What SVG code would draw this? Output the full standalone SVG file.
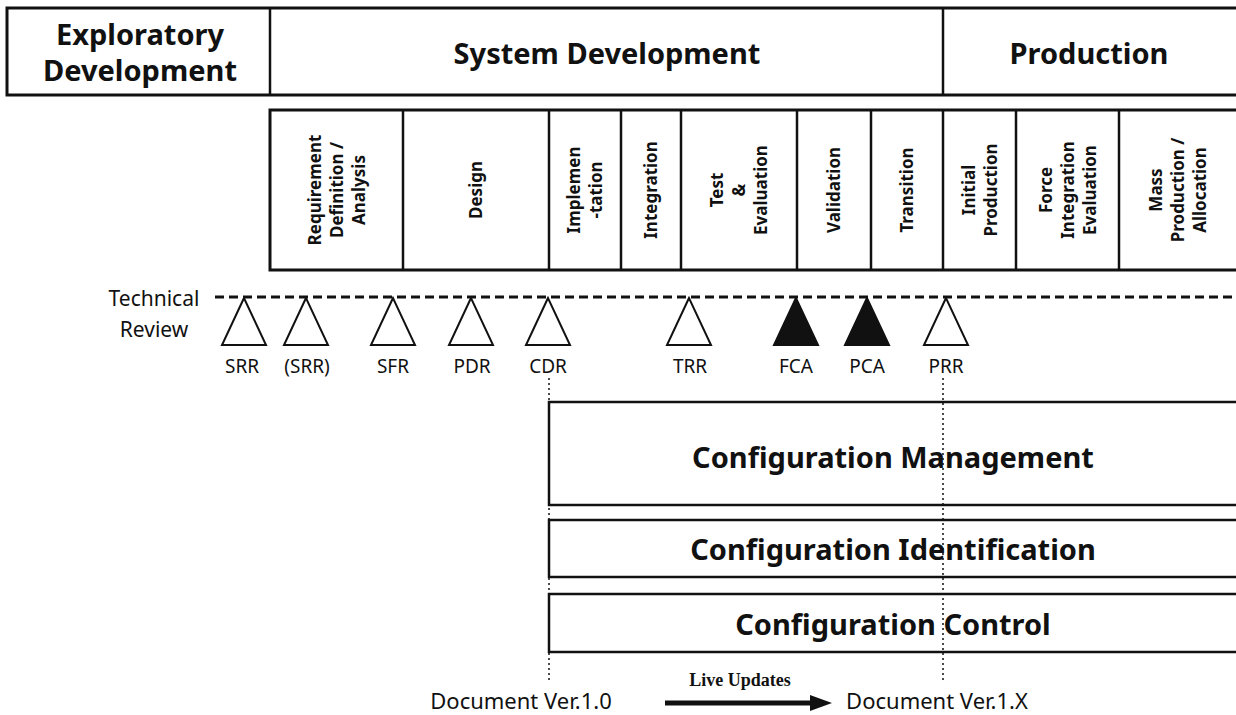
<svg xmlns="http://www.w3.org/2000/svg" width="1236" height="715" viewBox="0 0 1236 715">
<style>
.box{fill:#fff;stroke:#111;stroke-width:2.5}
.hdr{font-family:"Noto Sans","Open Sans",sans-serif;font-weight:bold;font-size:29px;fill:#111;text-anchor:middle}
.ph{font-family:"Noto Sans","Open Sans",sans-serif;font-weight:bold;font-size:17px;fill:#111;text-anchor:middle}
.lbl{font-family:"Noto Sans","Open Sans",sans-serif;font-size:19px;fill:#111;text-anchor:middle}
.cfg{font-family:"Noto Sans","Open Sans",sans-serif;font-weight:bold;font-size:29px;fill:#111;text-anchor:middle}
.doc{font-family:"Noto Sans","Open Sans",sans-serif;font-size:22px;fill:#111;text-anchor:middle}
.tri{stroke:#111;stroke-width:2;stroke-linejoin:miter}
.dot{stroke:#111;stroke-width:1.5;stroke-dasharray:2 3;fill:none}
</style>
<rect width="1236" height="715" fill="#fff"/>
<g id="top-banner">
<rect class="box" x="7" y="8" width="1232" height="87" style="stroke-width:3"/>
<line x1="270" y1="8" x2="270" y2="95" stroke="#111" stroke-width="2.5"/>
<line x1="943" y1="8" x2="943" y2="95" stroke="#111" stroke-width="2.5"/>
<text class="hdr" x="140" y="45">Exploratory</text>
<text class="hdr" x="140" y="81">Development</text>
<text class="hdr" x="607" y="64">System Development</text>
<text class="hdr" x="1089" y="64">Production</text>
</g>
<g id="phases">
<rect class="box" x="270" y="110" width="969" height="160" style="stroke-width:3"/>
<g stroke="#111" stroke-width="2.5">
<line x1="403" y1="110" x2="403" y2="270"/>
<line x1="549" y1="110" x2="549" y2="270"/>
<line x1="621" y1="110" x2="621" y2="270"/>
<line x1="681" y1="110" x2="681" y2="270"/>
<line x1="797" y1="110" x2="797" y2="270"/>
<line x1="871" y1="110" x2="871" y2="270"/>
<line x1="943" y1="110" x2="943" y2="270"/>
<line x1="1016" y1="110" x2="1016" y2="270"/>
<line x1="1119" y1="110" x2="1119" y2="270"/>
</g>
<text class="ph" transform="translate(337,190) rotate(-90)"><tspan x="0" y="-16">Requirement</tspan><tspan x="0" y="6">Definition /</tspan><tspan x="0" y="28">Analysis</tspan></text>
<text class="ph" transform="translate(476,190) rotate(-90)"><tspan x="0" y="6">Design</tspan></text>
<text class="ph" transform="translate(585,190) rotate(-90)"><tspan x="0" y="-5">Implemen</tspan><tspan x="0" y="17">-tation</tspan></text>
<text class="ph" transform="translate(651,190) rotate(-90)"><tspan x="0" y="6">Integration</tspan></text>
<text class="ph" transform="translate(739,190) rotate(-90)"><tspan x="0" y="-16">Test</tspan><tspan x="0" y="6">&amp;</tspan><tspan x="0" y="28">Evaluation</tspan></text>
<text class="ph" transform="translate(834,190) rotate(-90)"><tspan x="0" y="6">Validation</tspan></text>
<text class="ph" transform="translate(907,190) rotate(-90)"><tspan x="0" y="6">Transition</tspan></text>
<text class="ph" transform="translate(980,190) rotate(-90)"><tspan x="0" y="-5">Initial</tspan><tspan x="0" y="17">Production</tspan></text>
<text class="ph" transform="translate(1068,190) rotate(-90)"><tspan x="0" y="-16">Force</tspan><tspan x="0" y="6">Integration</tspan><tspan x="0" y="28">Evaluation</tspan></text>
<text class="ph" transform="translate(1178,190) rotate(-90)"><tspan x="0" y="-16">Mass</tspan><tspan x="0" y="6">Production /</tspan><tspan x="0" y="28">Allocation</tspan></text>
</g>
<g id="technical-review">
<text class="lbl" x="154" y="306" style="font-size:21px">Technical</text>
<text class="lbl" x="154" y="337" style="font-size:21px">Review</text>
<line x1="215" y1="297" x2="1236" y2="297" stroke="#111" stroke-width="3" stroke-dasharray="9 5"/>
</g>
<g id="reviews">
<polygon class="tri" fill="#fff" points="244,298 222,345 266,345"/>
<polygon class="tri" fill="#fff" points="306,298 284,345 328,345"/>
<polygon class="tri" fill="#fff" points="393,298 371,345 415,345"/>
<polygon class="tri" fill="#fff" points="471,298 449,345 493,345"/>
<polygon class="tri" fill="#fff" points="548,298 526,345 570,345"/>
<polygon class="tri" fill="#fff" points="689,298 667,345 711,345"/>
<polygon class="tri" fill="#111" points="796,298 774,345 818,345"/>
<polygon class="tri" fill="#111" points="867,298 845,345 889,345"/>
<polygon class="tri" fill="#fff" points="946,298 924,345 968,345"/>
<text class="lbl" x="242" y="373">SRR</text>
<text class="lbl" x="307" y="373">(SRR)</text>
<text class="lbl" x="393" y="373">SFR</text>
<text class="lbl" x="472" y="373">PDR</text>
<text class="lbl" x="548" y="373">CDR</text>
<text class="lbl" x="690" y="373">TRR</text>
<text class="lbl" x="796" y="373">FCA</text>
<text class="lbl" x="867" y="373">PCA</text>
<text class="lbl" x="946" y="373">PRR</text>
</g>
<g id="config-management">
<rect class="box" x="549" y="402" width="690" height="103"/>
<text class="cfg" x="893" y="468">Configuration Management</text>
</g>
<g id="config-identification">
<rect class="box" x="549" y="520" width="690" height="57"/>
<text class="cfg" x="893" y="560">Configuration Identification</text>
</g>
<g id="config-control">
<rect class="box" x="549" y="594" width="690" height="58"/>
<text class="cfg" x="893" y="635">Configuration Control</text>
</g>
<g id="connectors">
<line class="dot" x1="549" y1="378" x2="549" y2="680"/>
<line class="dot" x1="943" y1="378" x2="943" y2="680"/>
<line x1="665" y1="703" x2="812" y2="703" stroke="#111" stroke-width="5"/>
<polygon points="810,695 832,703 810,711" fill="#111"/>
</g>
<g id="documents">
<text class="doc" x="521" y="709">Document Ver.1.0</text>
<text class="doc" x="937" y="709">Document Ver.1.X</text>
<text x="740" y="686" font-family="Liberation Serif, serif" font-weight="bold" font-size="18" text-anchor="middle" fill="#111">Live Updates</text>
</g>
</svg>
